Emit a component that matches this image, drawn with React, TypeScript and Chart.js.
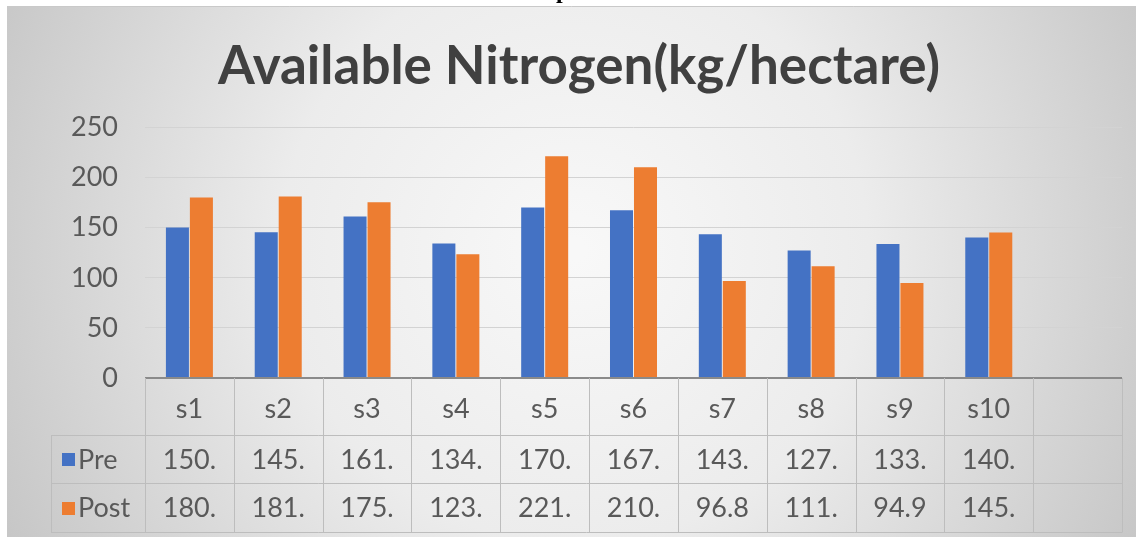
import { useEffect, useRef } from 'react';
import { Chart, registerables } from 'chart.js';

Chart.register(...registerables);

const titleText = 'Available Nitrogen(kg/hectare)';
const categories = ['s1', 's2', 's3', 's4', 's5', 's6', 's7', 's8', 's9', 's10', ''];
const seriesNames = ['Pre', 'Post'];
const preValues = [150.2, 145.6, 161.3, 134.4, 170.2, 167.5, 143.4, 127.3, 133.8, 140.2, null];
const postValues = [180.3, 181.2, 175.4, 123.6, 221.3, 210.4, 96.8, 111.5, 94.9, 145.3, null];
const yTicks = [0, 50, 100, 150, 200, 250];

const BLUE = '#4472C4';
const ORANGE = '#ED7D31';
const TEXT = '#595959';
const FONT = 'Lato';

const cellText = (v: number | null) => (v == null ? '' : String(v).slice(0, 4));

const backdrop = {
  id: 'backdrop',
  beforeDraw(chart: any) {
    const { ctx, width, height } = chart;
    ctx.save();
    ctx.fillStyle = '#ffffff';
    ctx.fillRect(0, 0, width, height);
    const g = ctx.createRadialGradient(575, 250, 10, 575, 250, 640);
    g.addColorStop(0, '#f8f8f8');
    g.addColorStop(0.45, '#ececec');
    g.addColorStop(1, '#c6c6c6');
    ctx.fillStyle = g;
    ctx.fillRect(7, 6, width - 7, height - 6);
    ctx.strokeStyle = '#c9c9c9';
    ctx.lineWidth = 1;
    ctx.beginPath();
    ctx.moveTo(7, 6.5);
    ctx.lineTo(width, 6.5);
    ctx.stroke();
    // fragment of the surrounding document text
    ctx.fillStyle = '#000';
    ctx.font = 'bold 24px "Liberation Serif"';
    ctx.textBaseline = 'alphabetic';
    ctx.fillText('p', 556, -2);
    ctx.restore();
  },
};

const dataTable = {
  id: 'dataTable',
  afterDraw(chart: any) {
    const { ctx } = chart;
    const xs = chart.scales.x;
    const area = chart.chartArea;
    const step = xs.getPixelForValue(1) - xs.getPixelForValue(0);
    const top = area.bottom;
    const rowLines = [435, 483, 532];
    const legendLeft = 51;
    ctx.save();
    ctx.strokeStyle = '#bdbdbd';
    ctx.lineWidth = 1;
    ctx.beginPath();
    rowLines.forEach((y) => {
      ctx.moveTo(legendLeft, y + 0.5);
      ctx.lineTo(area.right, y + 0.5);
    });
    for (let i = 0; i <= categories.length; i++) {
      const x = Math.round(xs.getPixelForValue(0) - step / 2 + i * step) + 0.5;
      ctx.moveTo(x, top);
      ctx.lineTo(x, rowLines[2] + 0.5);
    }
    ctx.moveTo(legendLeft + 0.5, rowLines[0]);
    ctx.lineTo(legendLeft + 0.5, rowLines[2] + 0.5);
    ctx.stroke();

    const rows = [
      { name: seriesNames[0], color: BLUE, values: preValues, y: (rowLines[0] + rowLines[1]) / 2 },
      { name: seriesNames[1], color: ORANGE, values: postValues, y: (rowLines[1] + rowLines[2]) / 2 },
    ];
    ctx.font = `27px ${FONT}`;
    ctx.textBaseline = 'middle';
    rows.forEach((r) => {
      ctx.fillStyle = r.color;
      ctx.fillRect(62, Math.round(r.y - 6), 13, 13);
      ctx.fillStyle = TEXT;
      ctx.textAlign = 'left';
      ctx.fillText(r.name, 78, r.y + 1);
      ctx.textAlign = 'center';
      r.values.forEach((v, i) => {
        ctx.fillText(cellText(v), xs.getPixelForValue(i), r.y + 1);
      });
    });
    ctx.restore();
  },
};

export default function App() {
  const ref = useRef<HTMLCanvasElement>(null);
  useEffect(() => {
    if (!ref.current) return;
    const chart = new Chart(ref.current, {
      type: 'bar',
      data: {
        labels: categories,
        datasets: [
          { label: seriesNames[0], data: preValues, backgroundColor: BLUE, borderWidth: 0 },
          { label: seriesNames[1], data: postValues, backgroundColor: ORANGE, borderWidth: 0 },
        ],
      },
      options: {
        animation: false,
        responsive: false,
        devicePixelRatio: 1,
        layout: { padding: { left: 36, right: 14, top: 0, bottom: 0 } },
        datasets: { bar: { categoryPercentage: 0.54, barPercentage: 0.96 } },
        plugins: {
          legend: { display: false },
          tooltip: { enabled: false },
          title: {
            display: true,
            text: titleText,
            color: '#404040',
            font: { family: FONT, size: 53, weight: 'bold', lineHeight: 1.2 },
            padding: { top: 35, bottom: 29 },
          },
        },
        scales: {
          y: {
            min: yTicks[0],
            max: yTicks[yTicks.length - 1],
            afterFit: (s: any) => { s.width = 109; },
            afterBuildTicks: (s: any) => { s.ticks = yTicks.map((v) => ({ value: v })); },
            border: { display: false },
            grid: {
              drawTicks: false,
              color: (c: any) => (c.tick && c.tick.value === 0 ? '#8a8a8a' : '#d3d3d3'),
              lineWidth: (c: any) => (c.tick && c.tick.value === 0 ? 2 : 1),
            },
            ticks: { padding: 27, color: TEXT, font: { family: FONT, size: 27 } },
          },
          x: {
            afterFit: (s: any) => { s.height = 159; },
            border: { display: false },
            grid: { display: false, drawTicks: false },
            ticks: { padding: 15, color: TEXT, font: { family: FONT, size: 27 }, maxRotation: 0 },
          },
        },
      },
      plugins: [backdrop, dataTable],
    });
    return () => chart.destroy();
  }, []);
  return (
    <div style={{ position: 'fixed', left: 0, top: 0, width: 1136, height: 537, background: '#fff' }}>
      <canvas ref={ref} width={1136} height={537} />
    </div>
  );
}
